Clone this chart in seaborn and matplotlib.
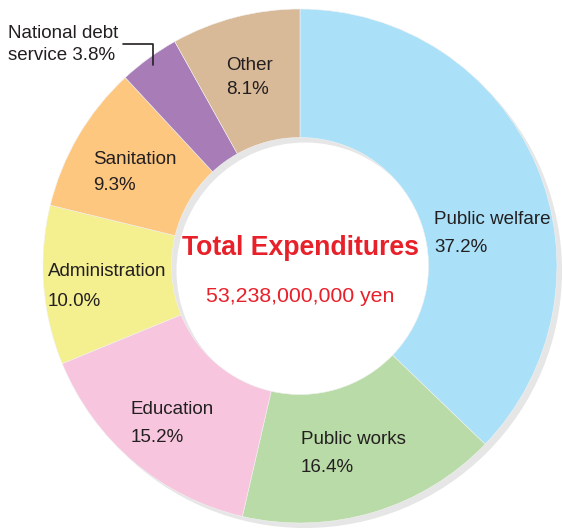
import matplotlib
matplotlib.use("Agg")
import matplotlib.pyplot as plt
import seaborn as sns

categories = ["Public welfare", "Public works", "Education", "Administration",
              "Sanitation", "National debt service", "Other"]
shares = [37.2, 16.4, 15.2, 10.0, 9.3, 3.8, 8.1]
colors = ["#aae1f9", "#b9dba7", "#f7c6de", "#f4ef8f", "#fec77f", "#a77cb7", "#d8b998"]
title_text = "Total Expenditures"
total_text = "53,238,000,000 yen"

sns.set_theme(style="white")
plt.rcParams['font.family'] = ['Liberation Sans', 'DejaVu Sans']
palette = sns.color_palette(colors)

W, H = 563, 530
fig = plt.figure(figsize=(W / 100, H / 100), dpi=100)
ax = fig.add_axes([0, 0, 1, 1])

cx, cy, R = 300, H - 266, 257
ring = 0.5 * R

# shadow ring
ax.pie([1], colors=["#e6e6e6"], center=(cx + 5, cy - 5), radius=R,
       wedgeprops=dict(width=ring, linewidth=0), frame=True)
# main donut
ax.pie(shares, colors=palette, center=(cx, cy), radius=R, startangle=90,
       counterclock=False,
       wedgeprops=dict(width=ring, edgecolor="#f2f2f2", linewidth=0.4), frame=True)
ax.set_xlim(0, W)
ax.set_ylim(0, H)
ax.set_aspect("equal")
ax.axis("off")

txt = "#231f20"
fs = 13.5
dy = 2
def lab(x, y1, y2, name, pct):
    ax.text(x, H - y1 - dy, name, fontsize=fs, color=txt, ha="left", va="center")
    ax.text(x, H - y2 - dy, f"{pct:.1f}%", fontsize=fs, color=txt, ha="left", va="center")

lab(434, 218, 245, categories[0], shares[0])
lab(301, 437, 466, categories[1], shares[1])
lab(131, 407, 435, categories[2], shares[2])
lab(48, 270, 300, categories[3], shares[3])
lab(93, 158, 184, categories[4], shares[4])
lab(226, 63, 88, categories[6], shares[6])
ax.text(8, H - 34, "National debt", fontsize=fs, color=txt, ha="left", va="center")
ax.text(8, H - 56, f"service {shares[5]:.1f}%", fontsize=fs, color=txt, ha="left", va="center")
ax.plot([123, 153, 153], [H - 44, H - 44, H - 65], color=txt, lw=1.2)

red = "#e8202a"
ax.text(cx, H - 248, title_text, fontsize=19.2, fontweight="bold", color=red,
        ha="center", va="center")
ax.text(cx, H - 296, total_text, fontsize=15.3, color=red, ha="center", va="center")

fig.savefig("out.png", dpi=100)
